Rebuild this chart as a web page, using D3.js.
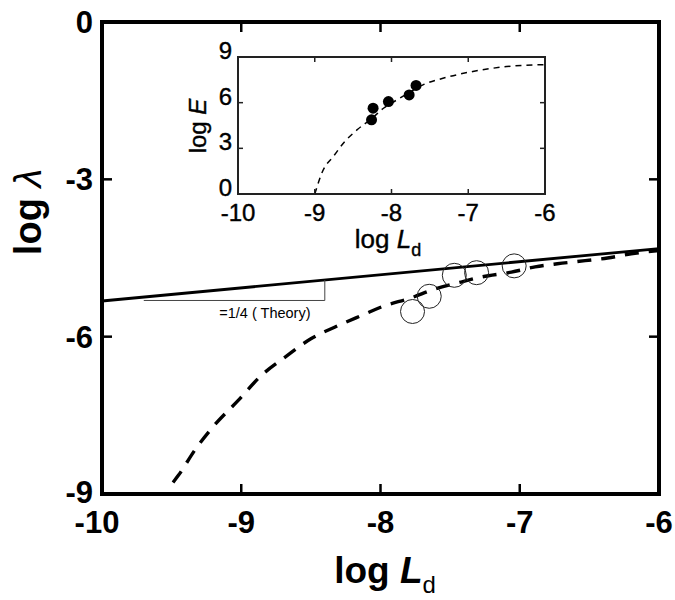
<!DOCTYPE html>
<html lang="en">
<head>
    <meta charset="UTF-8">
    <title>log lambda vs log Ld</title>
    <script src="https://d3js.org/d3.v7.min.js"></script>
    <style>
        body { margin: 0; background: #fff; }
        svg { display: block; }
        .tick-lab { font-family: 'Liberation Sans', Arial, sans-serif; font-weight: bold; }
        .title { font-family: 'Liberation Sans', Arial, sans-serif; font-weight: bold; }
        .inset-lab { font-family: 'Liberation Sans', Arial, sans-serif; }
    </style>
</head>
<body>
<div id="chart"></div>
<script>
    // main panel data
    const xTicks = [-10, -9, -8, -7, -6];
    const yTicks = [0, -3, -6, -9];
    const theoryX = [-10, -6];
    const theoryY = [-5.32, -4.32];
    const slopeX = [-9.7, -8.4];           // slope triangle corners
    const slopeY = -5.31;
    const curveX = [-9.49, -9.45, -9.33, -9.19, -9.02, -8.86, -8.68, -8.50, -8.33, -8.14, -7.97, -7.79, -7.61, -7.44, -7.29, -7.06, -6.89, -6.73, -6.53, -6.37, -6.20, -6.00];
    const curveY = [-8.78, -8.64, -8.15, -7.68, -7.21, -6.75, -6.38, -6.04, -5.82, -5.60, -5.41, -5.27, -5.09, -4.97, -4.87, -4.77, -4.67, -4.61, -4.55, -4.50, -4.42, -4.36];
    const openX = [-7.77, -7.65, -7.47, -7.31, -7.04];
    const openY = [-5.52, -5.23, -4.83, -4.78, -4.65];

    // inset data
    const insetXTicks = [-10, -9, -8, -7, -6];
    const insetYTicks = [0, 3, 6, 9];
    const insetCurveX = [-9.0, -8.89, -8.76, -8.61, -8.45, -8.26, -8.10, -7.93, -7.75, -7.59, -7.33, -6.94, -6.5, -6.0];
    const insetCurveY = [0, 1.58, 2.45, 3.44, 4.21, 4.95, 5.65, 6.18, 6.72, 7.17, 7.6, 8.05, 8.37, 8.5];
    const dotX = [-8.26, -8.24, -8.04, -7.77, -7.68];
    const dotY = [4.87, 5.64, 6.07, 6.51, 7.13];

    const width = 675, height = 600;
    const svg = d3.select("#chart").append("svg")
        .attr("width", width)
        .attr("height", height);

    const x = d3.scaleLinear().domain([-10, -6]).range([102, 659]);
    const y = d3.scaleLinear().domain([-9, 0]).range([494, 22]);

    // theory line
    svg.append("path")
        .datum(theoryX.map((d, i) => [d, theoryY[i]]))
        .attr("fill", "none").attr("stroke", "#000").attr("stroke-width", 2.8)
        .attr("d", d3.line().x(d => x(d[0])).y(d => y(d[1])));

    // slope triangle
    const theoryAt = v => theoryY[0] + (v - theoryX[0]) * (theoryY[1] - theoryY[0]) / (theoryX[1] - theoryX[0]);
    svg.append("path")
        .attr("fill", "none").attr("stroke", "#444").attr("stroke-width", 1)
        .attr("d", `M${x(slopeX[0])},${y(slopeY)}H${x(slopeX[1])}V${y(theoryAt(slopeX[1]))}`);
    svg.append("text")
        .attr("x", x(-8.83)).attr("y", y(slopeY) + 18)
        .attr("text-anchor", "middle")
        .style("font-family", "'Liberation Sans', Arial, sans-serif")
        .style("font-size", "14.5px")
        .text("=1/4 ( Theory)");

    // dashed fit curve
    svg.append("path")
        .datum(curveX.map((d, i) => [d, curveY[i]]))
        .attr("fill", "none").attr("stroke", "#000").attr("stroke-width", 3.4)
        .attr("stroke-dasharray", "14,10")
        .attr("d", d3.line().curve(d3.curveMonotoneX).x(d => x(d[0])).y(d => y(d[1])));

    // open circles
    svg.append("g").selectAll("circle")
        .data(openX.map((d, i) => [d, openY[i]]))
        .join("circle")
        .attr("cx", d => x(d[0])).attr("cy", d => y(d[1]))
        .attr("r", 12)
        .attr("fill", "none").attr("stroke", "#222").attr("stroke-width", 1);

    // frame and ticks
    svg.append("rect")
        .attr("x", x(-10)).attr("y", y(0))
        .attr("width", x(-6) - x(-10)).attr("height", y(-9) - y(0))
        .attr("fill", "none").attr("stroke", "#000").attr("stroke-width", 4);

    const inner = xTicks.slice(1, -1);
    svg.append("g").selectAll("line.xt")
        .data(inner.flatMap(t => [[t, y(-9), -10], [t, y(0), 10]]))
        .join("line")
        .attr("x1", d => x(d[0])).attr("x2", d => x(d[0]))
        .attr("y1", d => d[1]).attr("y2", d => d[1] + d[2])
        .attr("stroke", "#000").attr("stroke-width", 2.5);
    svg.append("g").selectAll("line.yt")
        .data(yTicks.slice(1, -1).flatMap(t => [[t, x(-10), 10], [t, x(-6), -10]]))
        .join("line")
        .attr("y1", d => y(d[0])).attr("y2", d => y(d[0]))
        .attr("x1", d => d[1]).attr("x2", d => d[1] + d[2])
        .attr("stroke", "#000").attr("stroke-width", 2.5);

    svg.append("g").selectAll("text")
        .data(xTicks)
        .join("text")
        .attr("class", "tick-lab")
        .attr("x", d => x(d) - (d === -10 ? 5 : 0)).attr("y", y(-9) + 39)
        .attr("text-anchor", "middle")
        .style("font-size", "31px")
        .text(d => d);
    svg.append("g").selectAll("text")
        .data(yTicks)
        .join("text")
        .attr("class", "tick-lab")
        .attr("x", x(-10) - 9).attr("y", d => Math.max(y(d), 17) + (d === -9 ? 9 : 11))
        .attr("text-anchor", "end")
        .style("font-size", "31px")
        .text(d => d);

    // axis titles
    const xt = svg.append("text").attr("class", "title")
        .attr("x", 385).attr("y", 583)
        .attr("text-anchor", "middle")
        .style("font-size", "37px");
    xt.append("tspan").text("log ");
    xt.append("tspan").style("font-style", "italic").text("L");
    xt.append("tspan").attr("dy", 10).style("font-size", "24px").style("font-weight", "normal").text("d");

    const yt = svg.append("text").attr("class", "title")
        .attr("transform", "translate(41,212) rotate(-90)")
        .attr("text-anchor", "middle")
        .style("font-size", "38px");
    yt.append("tspan").text("log ");
    yt.append("tspan").style("font-style", "italic").style("font-weight", "normal").text("λ");

    // inset
    const ix = d3.scaleLinear().domain([-10, -6]).range([238, 545]);
    const iy = d3.scaleLinear().domain([0, 9]).range([194, 57]);
    const inset = svg.append("g");

    inset.append("rect")
        .attr("x", ix(-10)).attr("y", iy(9))
        .attr("width", ix(-6) - ix(-10)).attr("height", iy(0) - iy(9))
        .attr("fill", "#fff").attr("stroke", "#222").attr("stroke-width", 2);

    inset.append("path")
        .datum(insetCurveX.map((d, i) => [d, insetCurveY[i]]))
        .attr("fill", "none").attr("stroke", "#000").attr("stroke-width", 1.5)
        .attr("stroke-dasharray", "6,5")
        .attr("d", d3.line().curve(d3.curveMonotoneX).x(d => ix(d[0])).y(d => iy(d[1])));

    inset.append("g").selectAll("circle")
        .data(dotX.map((d, i) => [d, dotY[i]]))
        .join("circle")
        .attr("cx", d => ix(d[0])).attr("cy", d => iy(d[1]))
        .attr("r", 5.5).attr("fill", "#000");

    inset.append("g").selectAll("line")
        .data(insetXTicks.slice(1, -1).flatMap(t => [[t, iy(0), -5], [t, iy(9), 5]]))
        .join("line")
        .attr("x1", d => ix(d[0])).attr("x2", d => ix(d[0]))
        .attr("y1", d => d[1]).attr("y2", d => d[1] + d[2])
        .attr("stroke", "#222").attr("stroke-width", 1.5);
    inset.append("g").selectAll("line")
        .data(insetYTicks.slice(1, -1).flatMap(t => [[t, ix(-10), 5], [t, ix(-6), -5]]))
        .join("line")
        .attr("y1", d => iy(d[0])).attr("y2", d => iy(d[0]))
        .attr("x1", d => d[1]).attr("x2", d => d[1] + d[2])
        .attr("stroke", "#222").attr("stroke-width", 1.5);

    inset.append("g").selectAll("text")
        .data(insetXTicks)
        .join("text")
        .attr("class", "inset-lab")
        .attr("x", d => ix(d)).attr("y", iy(0) + 27)
        .attr("text-anchor", "middle")
        .style("font-size", "24px")
        .style("stroke", "#000").style("stroke-width", 0.4)
        .text(d => d);
    inset.append("g").selectAll("text")
        .data(insetYTicks)
        .join("text")
        .attr("class", "inset-lab")
        .attr("x", ix(-10) - 6).attr("y", d => iy(d) + 2)
        .attr("text-anchor", "end")
        .style("font-size", "24px")
        .style("stroke", "#000").style("stroke-width", 0.4)
        .text(d => d);

    const ixt = inset.append("text").attr("class", "inset-lab")
        .attr("x", 388).attr("y", 248)
        .attr("text-anchor", "middle")
        .style("font-size", "26px")
        .style("stroke", "#000").style("stroke-width", 0.4);
    ixt.append("tspan").text("log ");
    ixt.append("tspan").style("font-style", "italic").text("L");
    ixt.append("tspan").attr("dy", 8).style("font-size", "18px").text("d");

    const iyt = inset.append("text").attr("class", "inset-lab")
        .attr("transform", "translate(206,126) rotate(-90)")
        .attr("text-anchor", "middle")
        .style("font-size", "24px")
        .style("stroke", "#000").style("stroke-width", 0.4);
    iyt.append("tspan").text("log ");
    iyt.append("tspan").style("font-style", "italic").text("E");
</script>
</body>
</html>
